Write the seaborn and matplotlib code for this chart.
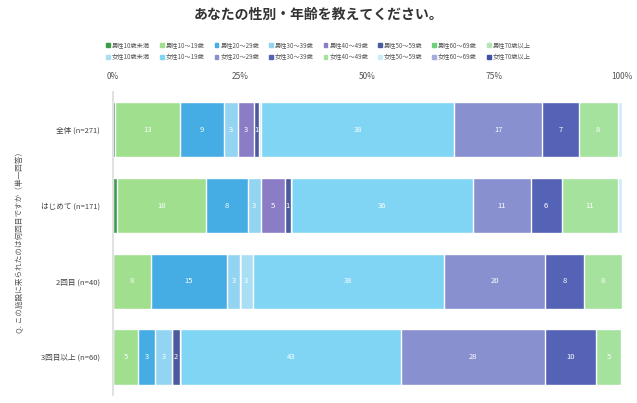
import pandas as pd
import matplotlib.pyplot as plt
import matplotlib.patches as mpatches
import seaborn as sns

# Data (percent of respondents)
groups = ['全体 (n=271)', 'はじめて (n=171)', '2回目 (n=40)', '3回目以上 (n=60)']
series = ['男性10歳未満', '男性10～19歳', '男性20～29歳', '男性30～39歳',
          '男性40～49歳', '男性50～59歳', '男性60～69歳', '男性70歳以上',
          '女性10歳未満', '女性10～19歳', '女性20～29歳', '女性30～39歳',
          '女性40～49歳', '女性50～59歳', '女性60～69歳', '女性70歳以上']
vals_all = [0.4, 12.9, 8.5, 2.9, 3.0, 1.1, 0, 0, 0.4, 37.9, 17.3, 7.2, 7.6, 0.8, 0, 0]
vals_first = [0.8, 17.5, 8.2, 2.6, 4.7, 1.2, 0, 0, 0, 35.7, 11.4, 6.1, 11.1, 0.7, 0, 0]
vals_second = [0, 7.5, 15.0, 2.5, 0, 0, 0, 0, 2.5, 37.5, 20.0, 7.5, 7.5, 0, 0, 0]
vals_third = [0, 5.0, 3.3, 3.3, 0, 1.7, 0, 0, 0, 43.3, 28.3, 10.0, 5.0, 0, 0, 0]
colors = ['#3c9a48', '#9fdf8e', '#45ade3', '#92d4f1', '#8a7dc6', '#4b5a9c', '#6fcf7a', '#b6e4b0',
          '#a9dff5', '#7fd5f3', '#8990cf', '#5563b6', '#a5e29e', '#cdeef9', '#a3acdc', '#3f51a5']

df = pd.DataFrame([vals_all, vals_first, vals_second, vals_third], index=groups, columns=series)
cum = df.cumsum(axis=1)

sns.set_theme(style='white')
plt.rcParams['font.family'] = ['Noto Sans CJK JP', 'DejaVu Sans']

fig = plt.figure(figsize=(6.37, 4.03), dpi=100)
ax = fig.add_axes([0.177, 0.02, 0.799, 0.752])

# stacked bars: draw cumulative totals from the last series back to the first
for s, c in reversed(list(zip(series, colors))):
    sns.barplot(x=cum[s].values, y=groups, color=c, orient='h', width=0.73,
                saturation=1, ax=ax)

# value labels
for i, g in enumerate(groups):
    for s in series:
        v = df.loc[g, s]
        if v >= 1:
            ax.text(cum.loc[g, s] - v / 2, i, str(int(v + 0.5)), ha='center', va='center',
                    color='white', fontsize=5.5)

ax.set_xlim(0, 100)
ax.set_ylim(3.5, -0.5)
ax.xaxis.tick_top()
ax.set_xticks([0, 25, 50, 75, 100])
ax.set_xticklabels(['0%', '25%', '50%', '75%', '100%'], fontsize=6, color='#555555')
ax.tick_params(axis='y', labelsize=5.5, colors='#444444', length=0, pad=9)
ax.tick_params(axis='x', length=0, pad=8)
for sp in ['top', 'right', 'bottom']:
    ax.spines[sp].set_visible(False)
ax.spines['left'].set_color('#dddddd')
ax.set_xlabel('')
ax.set_ylabel('')

fig.text(0.031, 0.404, 'Q. この施設に来られたのは何回目ですか（単一回答）', rotation=90,
         ha='center', va='center', fontsize=5.5, color='#555555')

fig.text(0.5, 0.962, 'あなたの性別・年齢を教えてください。', ha='center', va='center',
         fontsize=10, fontweight='bold', color='#333333')

handles = [mpatches.Patch(color=c, label=s) for s, c in zip(series, colors)]
# legend rows: male on top, female below
order = [handles[i // 2 + (i % 2) * 8] for i in range(16)]
fig.legend(handles=order, loc='center', bbox_to_anchor=(0.5, 0.873), ncol=8, frameon=False,
           fontsize=4.5, handlelength=0.6, handleheight=0.6, handletextpad=0.3,
           columnspacing=1.6, labelspacing=0.6, labelcolor='#555555')

plt.savefig('out.png', dpi=100)
